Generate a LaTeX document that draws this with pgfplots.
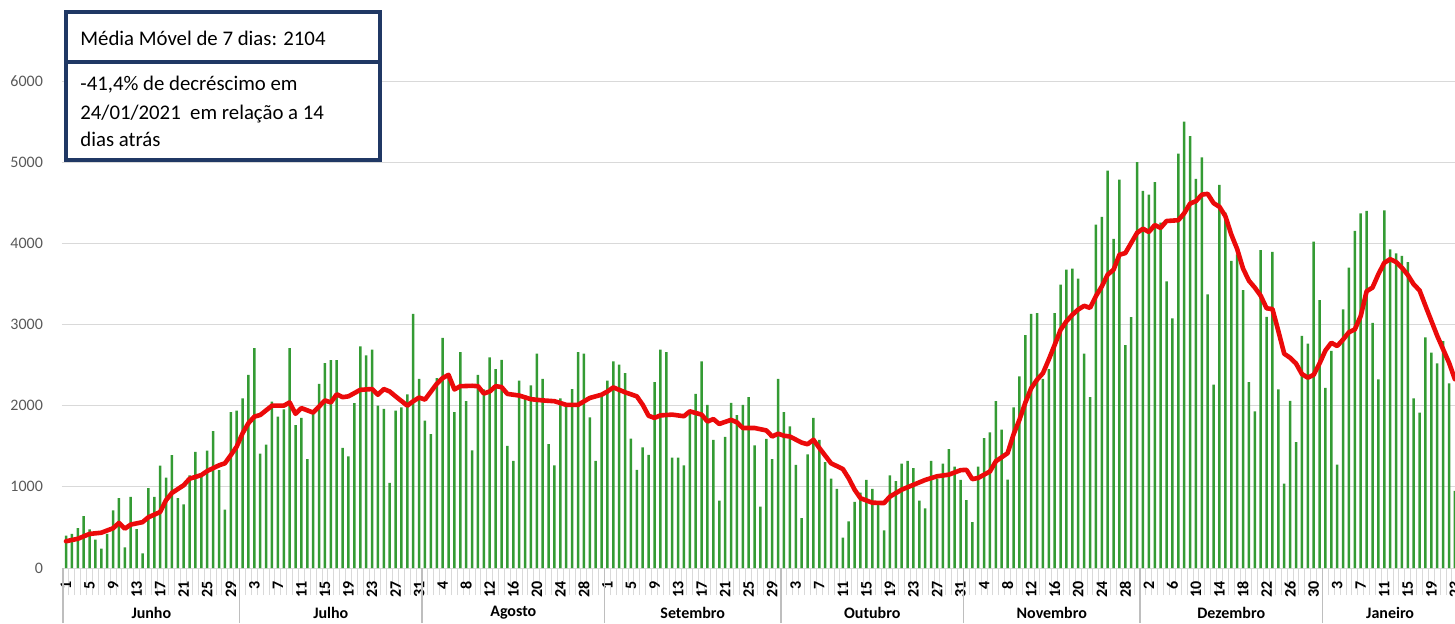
\documentclass[border=0pt]{standalone}
\usepackage{fontspec}
\setmainfont{Carlito}
\usepackage{pgfplots}
\pgfplotsset{compat=1.18}
\usepackage{pgfplotstable}
\definecolor{barg}{RGB}{52,155,52}
\definecolor{avgred}{RGB}{235,10,10}
\definecolor{gridc}{RGB}{217,217,217}
\definecolor{sepc}{RGB}{190,190,190}
\definecolor{boxc}{RGB}{32,56,100}
\definecolor{labc}{RGB}{89,89,89}

\pgfplotstableread{
d v
1 400
2 420
3 490
4 640
5 475
6 350
7 240
8 420
9 710
10 860
11 255
12 875
13 480
14 180
15 985
16 875
17 1260
18 1115
19 1390
20 860
21 785
22 1140
23 1430
24 1165
25 1445
26 1685
27 1205
28 720
29 1920
30 1940
31 2090
32 2380
33 2710
34 1410
35 1520
36 2050
37 1865
38 1955
39 2710
40 1760
41 1850
42 1340
43 1905
44 2270
45 2525
46 2560
47 2560
48 1480
49 1375
50 2030
51 2730
52 2620
53 2690
54 2000
55 1960
56 1050
57 1940
58 1980
59 2140
60 3130
61 2330
62 1815
63 1650
64 2340
65 2835
66 2350
67 1920
68 2660
69 2055
70 1450
71 2380
72 2200
73 2595
74 2450
75 2565
76 1505
77 1320
78 2310
79 2125
80 2250
81 2640
82 2330
83 1525
84 1265
85 2090
86 2010
87 2205
88 2660
89 2640
90 1855
91 1320
92 2120
93 2310
94 2545
95 2505
96 2400
97 1595
98 1210
99 1485
100 1395
101 2290
102 2690
103 2660
104 1360
105 1360
106 1265
107 1920
108 2145
109 2545
110 2010
111 1580
112 830
113 1615
114 2035
115 1885
116 2010
117 2105
118 1510
119 755
120 1590
121 1340
122 2330
123 1920
124 1745
125 1270
126 615
127 1400
128 1850
129 1580
130 1305
131 1100
132 975
133 375
134 575
135 815
136 930
137 1085
138 975
139 780
140 465
141 1140
142 1070
143 1285
144 1320
145 1230
146 830
147 735
148 1320
149 1100
150 1285
151 1465
152 1250
153 1085
154 835
155 565
156 1250
157 1600
158 1670
159 2055
160 1705
161 1090
162 1980
163 2360
164 2870
165 3130
166 3140
167 2330
168 2450
169 3140
170 3490
171 3675
172 3690
173 3565
174 2640
175 2105
176 4230
177 4325
178 4895
179 4055
180 4785
181 2745
182 3090
183 5000
184 4645
185 4600
186 4755
187 4255
188 3530
189 3075
190 5105
191 5500
192 5320
193 4795
194 5060
195 3370
196 2260
197 4720
198 4380
199 3785
200 3865
201 3425
202 2290
203 1930
204 3915
205 3095
206 3895
207 2200
208 1040
209 2060
210 1550
211 2860
212 2765
213 4020
214 3300
215 2220
216 2675
217 1275
218 3185
219 3700
220 4155
221 4370
222 4400
223 3020
224 2325
225 4405
226 3925
227 3875
228 3845
229 3770
230 2090
231 1915
232 2840
233 2655
234 2520
235 2795
236 2275
237 950
}\bars

\pgfplotstableread{
d v
1 330
3 360
5 420
7 435
9 490
10 555
11 485
12 535
14 565
15 625
17 690
18 835
19 925
21 1020
22 1100
24 1145
25 1195
27 1265
28 1290
29 1390
30 1495
31 1660
32 1785
33 1865
34 1885
36 2000
38 2000
39 2040
40 1900
41 1970
43 1915
44 1990
45 2065
46 2040
47 2140
48 2105
49 2115
51 2195
53 2205
54 2135
55 2205
56 2175
57 2115
59 2000
60 2055
61 2100
62 2075
64 2270
65 2340
66 2380
67 2200
68 2240
70 2245
71 2240
72 2150
73 2175
74 2240
75 2230
76 2145
78 2125
80 2080
82 2065
84 2055
86 2010
88 2010
90 2095
92 2135
93 2175
94 2225
96 2165
98 2115
99 2010
100 1875
101 1850
102 1880
104 1890
106 1870
107 1930
109 1890
110 1805
111 1835
112 1775
114 1825
115 1795
116 1725
118 1725
120 1695
121 1620
122 1655
123 1630
124 1620
126 1545
127 1525
128 1580
129 1480
131 1290
133 1220
134 1105
135 965
136 860
138 805
140 800
141 880
143 965
145 1025
147 1085
149 1130
151 1150
153 1205
154 1210
155 1095
156 1110
158 1190
159 1315
161 1415
162 1645
163 1825
164 2035
165 2215
166 2320
167 2400
168 2570
169 2750
170 2935
171 3040
172 3120
173 3185
174 3230
175 3205
176 3350
177 3470
178 3615
179 3675
180 3860
181 3880
182 4005
183 4130
184 4180
185 4140
186 4225
187 4190
188 4275
189 4280
190 4285
191 4370
192 4490
193 4520
194 4600
195 4610
196 4495
197 4450
198 4335
199 4110
200 3930
201 3690
202 3540
203 3455
204 3355
205 3200
206 3190
207 2920
208 2640
209 2590
210 2520
211 2390
212 2345
213 2380
214 2520
215 2680
216 2775
217 2735
218 2815
219 2905
220 2940
221 3105
222 3410
223 3455
224 3620
225 3760
226 3805
227 3770
228 3700
229 3610
230 3495
231 3420
232 3230
233 3045
234 2860
235 2695
236 2530
237 2325
}\avg

\begin{document}
\begin{tikzpicture}
\useasboundingbox (0,0) rectangle (727.5pt,311.5pt);
\begin{axis}[
  at={(31pt,27.5pt)}, anchor=south west,
  scale only axis, width=696.5pt, height=243.5pt,
  xmin=0.32, xmax=237.02, ymin=0, ymax=6000,
  clip=false,
  axis line style={draw=none},
  ymajorgrids, grid style={gridc, line width=0.5pt},
  ytick={0,1000,...,6000},
  yticklabel style={font=\fontsize{8}{9}\selectfont, text=labc, xshift=-6pt},
  ytick style={draw=none},
  xtick={1,5,...,237},
  xticklabels={1,5,9,13,17,21,25,29,3,7,11,15,19,23,27,31,4,8,12,16,20,24,28,1,5,9,13,17,21,25,29,3,7,11,15,19,23,27,31,4,8,12,16,20,24,28,2,6,10,14,18,22,26,30,3,7,11,15,19,23},
  xtick pos=bottom, ytick pos=left,
  major tick length=0pt,
  tick align=outside,
  minor xtick={0.5,1.5,...,237.5},
  minor tick length=13.5pt,
  minor tick style={gridc, line width=0.5pt},
  xticklabel style={yshift=-3pt, rotate=90, anchor=east, font=\bfseries\fontsize{8}{9}\selectfont},
  extra x ticks={0.5,30.5,61.5,92.5,122.5,153.5,183.5,214.5},
  extra x tick labels={},
  extra x tick style={major tick length=27.5pt, tick style={draw=sepc, line width=0.6pt}},
  /pgf/number format/1000 sep={},
  /pgf/number format/assume math mode=true,
]
\addplot[ybar, bar width=1.25pt, fill=barg, draw=none] table[x=d,y=v]{\bars};
\addplot[avgred, line width=2.3pt, line join=round, line cap=round] table[x=d,y=v]{\avg};
\node[font=\bfseries\fontsize{8}{9}\selectfont, yshift=-22.5pt] at (axis cs:15.5,0) {Junho};
\node[font=\bfseries\fontsize{8}{9}\selectfont, yshift=-22.5pt] at (axis cs:46,0) {Julho};
\node[font=\bfseries\fontsize{8}{9}\selectfont, yshift=-22.5pt] at (axis cs:77,0) {Agosto};
\node[font=\bfseries\fontsize{8}{9}\selectfont, yshift=-22.5pt] at (axis cs:107.5,0) {Setembro};
\node[font=\bfseries\fontsize{8}{9}\selectfont, yshift=-22.5pt] at (axis cs:138,0) {Outubro};
\node[font=\bfseries\fontsize{8}{9}\selectfont, yshift=-22.5pt] at (axis cs:168.5,0) {Novembro};
\node[font=\bfseries\fontsize{8}{9}\selectfont, yshift=-22.5pt] at (axis cs:199,0) {Dezembro};
\node[font=\bfseries\fontsize{8}{9}\selectfont, yshift=-22.5pt] at (axis cs:226,0) {Janeiro};
\end{axis}
% annotation box
\draw[boxc, line width=1.6pt, fill=white] (33pt,231.5pt) rectangle (190pt,305.5pt);
\draw[boxc, line width=1.6pt] (33pt,280.5pt) -- (190pt,280.5pt);
\begin{scope}[every node/.style={anchor=base west, inner sep=0pt, font=\fontsize{10.4}{12}\selectfont}]
\node at (40pt,289pt) {Média Móvel de 7 dias: 2104};
\node at (40pt,266.2pt) {-41,4\% de decréscimo em};
\node at (40pt,251.9pt) {24/01/2021\ \ em relação a 14};
\node at (40pt,238.2pt) {dias atrás};
\end{scope}
\end{tikzpicture}
\end{document}
